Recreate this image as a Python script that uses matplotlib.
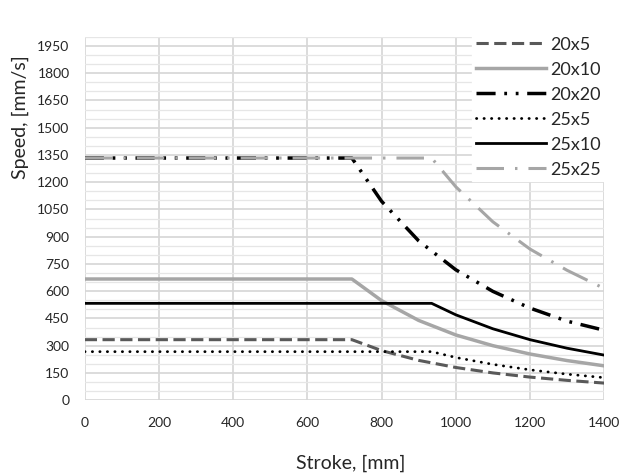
import matplotlib
matplotlib.use("Agg")
import matplotlib.pyplot as plt
from matplotlib.ticker import MultipleLocator

plt.rcParams["font.family"] = ["Lato", "DejaVu Sans"]

# stroke points [mm]
stroke_20 = [0, 720, 800, 900, 1000, 1100, 1200, 1300, 1400]
stroke_25 = [0, 935, 1000, 1100, 1200, 1300, 1400]

# speeds [mm/s]
speed_20x5 = [333, 333, 273, 219, 180, 150, 127, 109, 94]
speed_20x10 = [667, 667, 548, 439, 359, 300, 254, 218, 189]
speed_20x20 = [1333, 1333, 1095, 877, 718, 599, 507, 435, 385]
speed_25x5 = [267, 267, 235, 197, 167, 143, 124]
speed_25x10 = [533, 533, 470, 393, 333, 286, 248]
speed_25x25 = [1333, 1333, 1175, 982, 832, 715, 615]

fig = plt.figure(figsize=(6.19, 4.73), dpi=100)
ax = fig.add_axes([0.137, 0.154, 0.839, 0.768])

ax.plot(stroke_20, speed_20x5, color="#595959", lw=2.2, ls=(0, (4, 1.8)), label="20x5")
ax.plot(stroke_20, speed_20x10, color="#a6a6a6", lw=2.5, label="20x10")
ax.plot(stroke_20, speed_20x20, color="black", lw=2.5,
        ls=(0, (5.5, 2.5, 0.8, 2.5, 0.8, 2.5)), label="20x20")
ax.plot(stroke_25, speed_25x5, color="black", lw=2.0, ls=(0, (0.1, 2.6)),
        dash_capstyle="round", label="25x5")
ax.plot(stroke_25, speed_25x10, color="black", lw=2.0, label="25x10")
ax.plot(stroke_25, speed_25x25, color="#a6a6a6", lw=2.2,
        ls=(0, (9, 3.6, 0.8, 3.6)), label="25x25")

ax.set_xlim(0, 1400)
ax.set_ylim(0, 2000)
ax.set_xticks(range(0, 1401, 200))
ax.set_yticks(range(0, 1951, 150))
ax.yaxis.set_minor_locator(MultipleLocator(50))
ax.grid(which="major", color="#d6d6d6", lw=1.2)
ax.grid(which="minor", axis="y", color="#e6e6e6", lw=0.9)
ax.set_axisbelow(True)
for s in ax.spines.values():
    s.set_visible(False)
ax.tick_params(which="both", length=0, labelsize=10, colors="#262626")
ax.tick_params(axis="x", pad=12)
ax.tick_params(axis="y", pad=11)

fig.text(351 / 619, 1 - 463 / 473, "Stroke, [mm]", fontsize=14, color="#262626",
         ha="center", va="center")
fig.text(20 / 619, 1 - 117 / 473, "Speed, [mm/s]", fontsize=14, color="#262626",
         ha="center", va="center", rotation=90)

leg = ax.legend(loc="upper right", bbox_to_anchor=(614 / 619, 1 - 24 / 473),
                bbox_transform=fig.transFigure, frameon=True, framealpha=1,
                edgecolor="white", facecolor="white", fontsize=13,
                handlelength=3.9, handletextpad=0.25, labelspacing=0.5,
                borderpad=0.2, fancybox=False)
for t in leg.get_texts():
    t.set_color("#262626")

fig.savefig("out.png", dpi=100)
